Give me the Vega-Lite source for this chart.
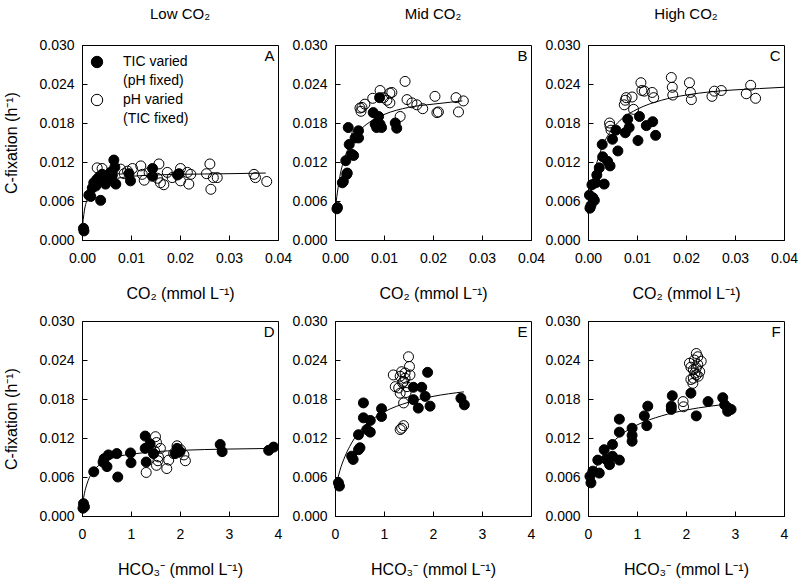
{
  "$schema": "https://vega.github.io/schema/vega-lite/v6.json",
  "background": "white",
  "padding": {"left": 3, "top": 6, "right": 5, "bottom": 5},
  "datasets": {
    "pts": [
      {"p":"A","t":"pH","x":0.0031,"y":0.0111},{"p":"A","t":"pH","x":0.0041,"y":0.0110},{"p":"A","t":"pH","x":0.0079,"y":0.0109},{"p":"A","t":"pH","x":0.0086,"y":0.0102},{"p":"A","t":"pH","x":0.0093,"y":0.0106},{"p":"A","t":"pH","x":0.0103,"y":0.0110},{"p":"A","t":"pH","x":0.0120,"y":0.0114},{"p":"A","t":"pH","x":0.0123,"y":0.0101},{"p":"A","t":"pH","x":0.0127,"y":0.0092},{"p":"A","t":"pH","x":0.0137,"y":0.0104},{"p":"A","t":"pH","x":0.0157,"y":0.0117},{"p":"A","t":"pH","x":0.0154,"y":0.0095},{"p":"A","t":"pH","x":0.0160,"y":0.0088},{"p":"A","t":"pH","x":0.0167,"y":0.0085},{"p":"A","t":"pH","x":0.0174,"y":0.0104},{"p":"A","t":"pH","x":0.0184,"y":0.0096},{"p":"A","t":"pH","x":0.0201,"y":0.0110},{"p":"A","t":"pH","x":0.0201,"y":0.0091},{"p":"A","t":"pH","x":0.0215,"y":0.0104},{"p":"A","t":"pH","x":0.0218,"y":0.0086},{"p":"A","t":"pH","x":0.0222,"y":0.0101},{"p":"A","t":"pH","x":0.0254,"y":0.0102},{"p":"A","t":"pH","x":0.0261,"y":0.0117},{"p":"A","t":"pH","x":0.0263,"y":0.0078},{"p":"A","t":"pH","x":0.0268,"y":0.0096},{"p":"A","t":"pH","x":0.0276,"y":0.0096},{"p":"A","t":"pH","x":0.0351,"y":0.0101},{"p":"A","t":"pH","x":0.0354,"y":0.0096},{"p":"A","t":"pH","x":0.0377,"y":0.0090},
      {"p":"A","t":"TIC","x":0.0003,"y":0.0018},{"p":"A","t":"TIC","x":0.0004,"y":0.0014},{"p":"A","t":"TIC","x":0.0014,"y":0.0069},{"p":"A","t":"TIC","x":0.0018,"y":0.0067},{"p":"A","t":"TIC","x":0.0021,"y":0.0080},{"p":"A","t":"TIC","x":0.0024,"y":0.0088},{"p":"A","t":"TIC","x":0.0028,"y":0.0083},{"p":"A","t":"TIC","x":0.0030,"y":0.0093},{"p":"A","t":"TIC","x":0.0035,"y":0.0097},{"p":"A","t":"TIC","x":0.0038,"y":0.0061},{"p":"A","t":"TIC","x":0.0041,"y":0.0101},{"p":"A","t":"TIC","x":0.0048,"y":0.0086},{"p":"A","t":"TIC","x":0.0055,"y":0.0095},{"p":"A","t":"TIC","x":0.0058,"y":0.0104},{"p":"A","t":"TIC","x":0.0062,"y":0.0100},{"p":"A","t":"TIC","x":0.0065,"y":0.0123},{"p":"A","t":"TIC","x":0.0067,"y":0.0112},{"p":"A","t":"TIC","x":0.0069,"y":0.0086},{"p":"A","t":"TIC","x":0.0096,"y":0.0102},{"p":"A","t":"TIC","x":0.0099,"y":0.0091},{"p":"A","t":"TIC","x":0.0144,"y":0.0110},{"p":"A","t":"TIC","x":0.0144,"y":0.0098},{"p":"A","t":"TIC","x":0.0195,"y":0.0100},{"p":"A","t":"TIC","x":0.0198,"y":0.0102},
      {"p":"B","t":"pH","x":0.0044,"y":0.0162},{"p":"B","t":"pH","x":0.0051,"y":0.0203},{"p":"B","t":"pH","x":0.0055,"y":0.0204},{"p":"B","t":"pH","x":0.0053,"y":0.0198},{"p":"B","t":"pH","x":0.0061,"y":0.0209},{"p":"B","t":"pH","x":0.0077,"y":0.0218},{"p":"B","t":"pH","x":0.0092,"y":0.0230},{"p":"B","t":"pH","x":0.0099,"y":0.0219},{"p":"B","t":"pH","x":0.0106,"y":0.0215},{"p":"B","t":"pH","x":0.0112,"y":0.0211},{"p":"B","t":"pH","x":0.0112,"y":0.0226},{"p":"B","t":"pH","x":0.0116,"y":0.0227},{"p":"B","t":"pH","x":0.0133,"y":0.0190},{"p":"B","t":"pH","x":0.0143,"y":0.0244},{"p":"B","t":"pH","x":0.0147,"y":0.0216},{"p":"B","t":"pH","x":0.0157,"y":0.0211},{"p":"B","t":"pH","x":0.0167,"y":0.0208},{"p":"B","t":"pH","x":0.0179,"y":0.0202},{"p":"B","t":"pH","x":0.0204,"y":0.0221},{"p":"B","t":"pH","x":0.0208,"y":0.0196},{"p":"B","t":"pH","x":0.0211,"y":0.0197},{"p":"B","t":"pH","x":0.0247,"y":0.0219},{"p":"B","t":"pH","x":0.0252,"y":0.0197},{"p":"B","t":"pH","x":0.0262,"y":0.0214},
      {"p":"B","t":"TIC","x":0.0005,"y":0.0050},{"p":"B","t":"TIC","x":0.0004,"y":0.0048},{"p":"B","t":"TIC","x":0.0015,"y":0.0088},{"p":"B","t":"TIC","x":0.0017,"y":0.0090},{"p":"B","t":"TIC","x":0.0024,"y":0.0101},{"p":"B","t":"TIC","x":0.0025,"y":0.0103},{"p":"B","t":"TIC","x":0.0022,"y":0.0122},{"p":"B","t":"TIC","x":0.0027,"y":0.0173},{"p":"B","t":"TIC","x":0.0029,"y":0.0147},{"p":"B","t":"TIC","x":0.0034,"y":0.0132},{"p":"B","t":"TIC","x":0.0038,"y":0.0130},{"p":"B","t":"TIC","x":0.0041,"y":0.0157},{"p":"B","t":"TIC","x":0.0048,"y":0.0168},{"p":"B","t":"TIC","x":0.0048,"y":0.0157},{"p":"B","t":"TIC","x":0.0078,"y":0.0196},{"p":"B","t":"TIC","x":0.0082,"y":0.0178},{"p":"B","t":"TIC","x":0.0085,"y":0.0173},{"p":"B","t":"TIC","x":0.0089,"y":0.0190},{"p":"B","t":"TIC","x":0.0091,"y":0.0219},{"p":"B","t":"TIC","x":0.0092,"y":0.0178},{"p":"B","t":"TIC","x":0.0095,"y":0.0173},{"p":"B","t":"TIC","x":0.0123,"y":0.0180},{"p":"B","t":"TIC","x":0.0126,"y":0.0172},
      {"p":"C","t":"pH","x":0.0044,"y":0.0180},{"p":"C","t":"pH","x":0.0045,"y":0.0175},{"p":"C","t":"pH","x":0.0047,"y":0.0169},{"p":"C","t":"pH","x":0.0074,"y":0.0208},{"p":"C","t":"pH","x":0.0076,"y":0.0215},{"p":"C","t":"pH","x":0.0078,"y":0.0219},{"p":"C","t":"pH","x":0.0090,"y":0.0220},{"p":"C","t":"pH","x":0.0093,"y":0.0201},{"p":"C","t":"pH","x":0.0108,"y":0.0242},{"p":"C","t":"pH","x":0.0110,"y":0.0230},{"p":"C","t":"pH","x":0.0115,"y":0.0229},{"p":"C","t":"pH","x":0.0131,"y":0.0227},{"p":"C","t":"pH","x":0.0134,"y":0.0219},{"p":"C","t":"pH","x":0.0170,"y":0.0250},{"p":"C","t":"pH","x":0.0172,"y":0.0235},{"p":"C","t":"pH","x":0.0173,"y":0.0223},{"p":"C","t":"pH","x":0.0207,"y":0.0242},{"p":"C","t":"pH","x":0.0209,"y":0.0227},{"p":"C","t":"pH","x":0.0211,"y":0.0216},{"p":"C","t":"pH","x":0.0253,"y":0.0221},{"p":"C","t":"pH","x":0.0258,"y":0.0229},{"p":"C","t":"pH","x":0.0272,"y":0.0230},{"p":"C","t":"pH","x":0.0323,"y":0.0225},{"p":"C","t":"pH","x":0.0332,"y":0.0238},{"p":"C","t":"pH","x":0.0342,"y":0.0218},
      {"p":"C","t":"TIC","x":0.0004,"y":0.0049},{"p":"C","t":"TIC","x":0.0006,"y":0.0053},{"p":"C","t":"TIC","x":0.0003,"y":0.0069},{"p":"C","t":"TIC","x":0.0010,"y":0.0065},{"p":"C","t":"TIC","x":0.0013,"y":0.0061},{"p":"C","t":"TIC","x":0.0008,"y":0.0085},{"p":"C","t":"TIC","x":0.0016,"y":0.0088},{"p":"C","t":"TIC","x":0.0018,"y":0.0100},{"p":"C","t":"TIC","x":0.0023,"y":0.0111},{"p":"C","t":"TIC","x":0.0029,"y":0.0147},{"p":"C","t":"TIC","x":0.0030,"y":0.0128},{"p":"C","t":"TIC","x":0.0033,"y":0.0086},{"p":"C","t":"TIC","x":0.0040,"y":0.0121},{"p":"C","t":"TIC","x":0.0045,"y":0.0114},{"p":"C","t":"TIC","x":0.0050,"y":0.0155},{"p":"C","t":"TIC","x":0.0057,"y":0.0169},{"p":"C","t":"TIC","x":0.0061,"y":0.0137},{"p":"C","t":"TIC","x":0.0076,"y":0.0165},{"p":"C","t":"TIC","x":0.0081,"y":0.0186},{"p":"C","t":"TIC","x":0.0084,"y":0.0173},{"p":"C","t":"TIC","x":0.0102,"y":0.0153},{"p":"C","t":"TIC","x":0.0105,"y":0.0190},{"p":"C","t":"TIC","x":0.0119,"y":0.0176},{"p":"C","t":"TIC","x":0.0132,"y":0.0182},{"p":"C","t":"TIC","x":0.0138,"y":0.0161},
      {"p":"D","t":"pH","x":1.31,"y":0.0067},{"p":"D","t":"pH","x":1.50,"y":0.0122},{"p":"D","t":"pH","x":1.52,"y":0.0113},{"p":"D","t":"pH","x":1.52,"y":0.0078},{"p":"D","t":"pH","x":1.56,"y":0.0091},{"p":"D","t":"pH","x":1.60,"y":0.0104},{"p":"D","t":"pH","x":1.73,"y":0.0073},{"p":"D","t":"pH","x":1.77,"y":0.0086},{"p":"D","t":"pH","x":1.87,"y":0.0096},{"p":"D","t":"pH","x":1.94,"y":0.0108},{"p":"D","t":"pH","x":2.01,"y":0.0102},{"p":"D","t":"pH","x":2.08,"y":0.0094},{"p":"D","t":"pH","x":2.11,"y":0.0085},{"p":"D","t":"pH","x":1.48,"y":0.0100},{"p":"D","t":"pH","x":1.55,"y":0.0085},
      {"p":"D","t":"TIC","x":0.03,"y":0.0019},{"p":"D","t":"TIC","x":0.05,"y":0.0014},{"p":"D","t":"TIC","x":0.02,"y":0.0012},{"p":"D","t":"TIC","x":0.24,"y":0.0068},{"p":"D","t":"TIC","x":0.43,"y":0.0083},{"p":"D","t":"TIC","x":0.45,"y":0.0088},{"p":"D","t":"TIC","x":0.51,"y":0.0076},{"p":"D","t":"TIC","x":0.54,"y":0.0094},{"p":"D","t":"TIC","x":0.71,"y":0.0096},{"p":"D","t":"TIC","x":0.73,"y":0.0060},{"p":"D","t":"TIC","x":0.99,"y":0.0097},{"p":"D","t":"TIC","x":1.00,"y":0.0082},{"p":"D","t":"TIC","x":1.29,"y":0.0123},{"p":"D","t":"TIC","x":1.29,"y":0.0104},{"p":"D","t":"TIC","x":1.31,"y":0.0083},{"p":"D","t":"TIC","x":1.39,"y":0.0111},{"p":"D","t":"TIC","x":1.46,"y":0.0096},{"p":"D","t":"TIC","x":1.90,"y":0.0096},{"p":"D","t":"TIC","x":1.94,"y":0.0104},{"p":"D","t":"TIC","x":2.00,"y":0.0099},{"p":"D","t":"TIC","x":2.82,"y":0.0110},{"p":"D","t":"TIC","x":2.86,"y":0.0099},{"p":"D","t":"TIC","x":3.81,"y":0.0101},{"p":"D","t":"TIC","x":3.91,"y":0.0106},
      {"p":"E","t":"pH","x":1.19,"y":0.0217},{"p":"E","t":"pH","x":1.23,"y":0.0199},{"p":"E","t":"pH","x":1.30,"y":0.0197},{"p":"E","t":"pH","x":1.33,"y":0.0215},{"p":"E","t":"pH","x":1.36,"y":0.0222},{"p":"E","t":"pH","x":1.40,"y":0.0207},{"p":"E","t":"pH","x":1.43,"y":0.0212},{"p":"E","t":"pH","x":1.47,"y":0.0199},{"p":"E","t":"pH","x":1.50,"y":0.0245},{"p":"E","t":"pH","x":1.52,"y":0.0230},{"p":"E","t":"pH","x":1.43,"y":0.0220},{"p":"E","t":"pH","x":1.53,"y":0.0217},{"p":"E","t":"pH","x":1.40,"y":0.0174},{"p":"E","t":"pH","x":1.33,"y":0.0189},{"p":"E","t":"pH","x":1.36,"y":0.0135},{"p":"E","t":"pH","x":1.40,"y":0.0139},{"p":"E","t":"pH","x":1.33,"y":0.0133},{"p":"E","t":"pH","x":1.38,"y":0.0205},{"p":"E","t":"pH","x":1.45,"y":0.0190},
      {"p":"E","t":"TIC","x":0.07,"y":0.0051},{"p":"E","t":"TIC","x":0.09,"y":0.0046},{"p":"E","t":"TIC","x":0.34,"y":0.0092},{"p":"E","t":"TIC","x":0.37,"y":0.0087},{"p":"E","t":"TIC","x":0.48,"y":0.0102},{"p":"E","t":"TIC","x":0.51,"y":0.0105},{"p":"E","t":"TIC","x":0.48,"y":0.0125},{"p":"E","t":"TIC","x":0.58,"y":0.0174},{"p":"E","t":"TIC","x":0.58,"y":0.0151},{"p":"E","t":"TIC","x":0.65,"y":0.0133},{"p":"E","t":"TIC","x":0.72,"y":0.0147},{"p":"E","t":"TIC","x":0.72,"y":0.0129},{"p":"E","t":"TIC","x":0.95,"y":0.0165},{"p":"E","t":"TIC","x":0.95,"y":0.0153},{"p":"E","t":"TIC","x":1.60,"y":0.0198},{"p":"E","t":"TIC","x":1.60,"y":0.0179},{"p":"E","t":"TIC","x":1.70,"y":0.0166},{"p":"E","t":"TIC","x":1.77,"y":0.0198},{"p":"E","t":"TIC","x":1.84,"y":0.0184},{"p":"E","t":"TIC","x":1.89,"y":0.0221},{"p":"E","t":"TIC","x":1.94,"y":0.0169},{"p":"E","t":"TIC","x":2.57,"y":0.0181},{"p":"E","t":"TIC","x":2.64,"y":0.0171},
      {"p":"F","t":"pH","x":1.94,"y":0.0176},{"p":"F","t":"pH","x":1.95,"y":0.0168},{"p":"F","t":"pH","x":2.10,"y":0.0210},{"p":"F","t":"pH","x":2.14,"y":0.0204},{"p":"F","t":"pH","x":2.21,"y":0.0250},{"p":"F","t":"pH","x":2.17,"y":0.0240},{"p":"F","t":"pH","x":2.24,"y":0.0233},{"p":"F","t":"pH","x":2.15,"y":0.0225},{"p":"F","t":"pH","x":2.28,"y":0.0222},{"p":"F","t":"pH","x":2.21,"y":0.0217},{"p":"F","t":"pH","x":2.10,"y":0.0229},{"p":"F","t":"pH","x":2.31,"y":0.0238},{"p":"F","t":"pH","x":2.15,"y":0.0212},{"p":"F","t":"pH","x":2.24,"y":0.0245},{"p":"F","t":"pH","x":2.07,"y":0.0235},{"p":"F","t":"pH","x":2.21,"y":0.0228},{"p":"F","t":"pH","x":2.18,"y":0.0220},{"p":"F","t":"pH","x":2.25,"y":0.0215},
      {"p":"F","t":"TIC","x":0.06,"y":0.0051},{"p":"F","t":"TIC","x":0.04,"y":0.0061},{"p":"F","t":"TIC","x":0.10,"y":0.0069},{"p":"F","t":"TIC","x":0.23,"y":0.0066},{"p":"F","t":"TIC","x":0.20,"y":0.0086},{"p":"F","t":"TIC","x":0.33,"y":0.0102},{"p":"F","t":"TIC","x":0.37,"y":0.0087},{"p":"F","t":"TIC","x":0.44,"y":0.0079},{"p":"F","t":"TIC","x":0.50,"y":0.0110},{"p":"F","t":"TIC","x":0.50,"y":0.0092},{"p":"F","t":"TIC","x":0.64,"y":0.0086},{"p":"F","t":"TIC","x":0.64,"y":0.0149},{"p":"F","t":"TIC","x":0.64,"y":0.0129},{"p":"F","t":"TIC","x":0.90,"y":0.0135},{"p":"F","t":"TIC","x":0.90,"y":0.0124},{"p":"F","t":"TIC","x":0.90,"y":0.0115},{"p":"F","t":"TIC","x":1.15,"y":0.0154},{"p":"F","t":"TIC","x":1.22,"y":0.0169},{"p":"F","t":"TIC","x":1.20,"y":0.0139},{"p":"F","t":"TIC","x":1.70,"y":0.0169},{"p":"F","t":"TIC","x":1.72,"y":0.0185},{"p":"F","t":"TIC","x":1.70,"y":0.0164},{"p":"F","t":"TIC","x":2.10,"y":0.0189},{"p":"F","t":"TIC","x":2.21,"y":0.0154},{"p":"F","t":"TIC","x":2.45,"y":0.0176},{"p":"F","t":"TIC","x":2.75,"y":0.0182},{"p":"F","t":"TIC","x":2.79,"y":0.0171},{"p":"F","t":"TIC","x":2.92,"y":0.0164},{"p":"F","t":"TIC","x":2.85,"y":0.0161}
    ],
    "fits": [
      {"p":"A","x":0,"y":0.0014},{"p":"A","x":0.0005,"y":0.0046},{"p":"A","x":0.001,"y":0.0061},{"p":"A","x":0.002,"y":0.0076},{"p":"A","x":0.003,"y":0.0084},{"p":"A","x":0.005,"y":0.0091},{"p":"A","x":0.008,"y":0.0096},{"p":"A","x":0.012,"y":0.0099},{"p":"A","x":0.02,"y":0.0101},{"p":"A","x":0.03,"y":0.0102},{"p":"A","x":0.0375,"y":0.0103},
      {"p":"B","x":0,"y":0.0045},{"p":"B","x":0.001,"y":0.0098},{"p":"B","x":0.002,"y":0.0127},{"p":"B","x":0.003,"y":0.0146},{"p":"B","x":0.005,"y":0.0168},{"p":"B","x":0.007,"y":0.0181},{"p":"B","x":0.01,"y":0.0193},{"p":"B","x":0.015,"y":0.0204},{"p":"B","x":0.02,"y":0.0209},{"p":"B","x":0.026,"y":0.0214},
      {"p":"C","x":0,"y":0.0040},{"p":"C","x":0.001,"y":0.0093},{"p":"C","x":0.002,"y":0.0124},{"p":"C","x":0.003,"y":0.0145},{"p":"C","x":0.005,"y":0.0171},{"p":"C","x":0.007,"y":0.0187},{"p":"C","x":0.01,"y":0.0201},{"p":"C","x":0.015,"y":0.0215},{"p":"C","x":0.02,"y":0.0223},{"p":"C","x":0.025,"y":0.0228},{"p":"C","x":0.03,"y":0.0231},{"p":"C","x":0.035,"y":0.0233},{"p":"C","x":0.04,"y":0.0235},
      {"p":"D","x":0.02,"y":0.0022},{"p":"D","x":0.05,"y":0.0035},{"p":"D","x":0.1,"y":0.0049},{"p":"D","x":0.2,"y":0.0066},{"p":"D","x":0.3,"y":0.0075},{"p":"D","x":0.5,"y":0.0085},{"p":"D","x":0.75,"y":0.0092},{"p":"D","x":1,"y":0.0095},{"p":"D","x":1.5,"y":0.0099},{"p":"D","x":2,"y":0.0101},{"p":"D","x":3,"y":0.0103},{"p":"D","x":3.9,"y":0.0104},
      {"p":"E","x":0.05,"y":0.0056},{"p":"E","x":0.1,"y":0.0070},{"p":"E","x":0.2,"y":0.0091},{"p":"E","x":0.3,"y":0.0107},{"p":"E","x":0.5,"y":0.0130},{"p":"E","x":0.75,"y":0.0148},{"p":"E","x":1,"y":0.0160},{"p":"E","x":1.5,"y":0.0175},{"p":"E","x":2,"y":0.0184},{"p":"E","x":2.63,"y":0.0191},
      {"p":"F","x":0.05,"y":0.0052},{"p":"F","x":0.1,"y":0.0063},{"p":"F","x":0.3,"y":0.0093},{"p":"F","x":0.5,"y":0.0113},{"p":"F","x":0.75,"y":0.0129},{"p":"F","x":1,"y":0.0140},{"p":"F","x":1.5,"y":0.0154},{"p":"F","x":2,"y":0.0163},{"p":"F","x":2.5,"y":0.0169},{"p":"F","x":2.92,"y":0.0173}
    ]
  },
  "columns": 3,
  "spacing": {"row": 81, "column": 57},
  "bounds": "flush",
  "resolve": {"scale": {"x": "independent", "y": "independent"}, "legend": {"fill": "independent"}},
  "concat": [
    {
      "width": 196, "height": 195,
      "title": {"text": "Low CO₂"},
      "layer": [
        {"data": {"name": "fits"}, "transform": [{"filter": "datum.p === 'A'"}],
         "mark": {"type": "line", "color": "black", "strokeWidth": 1, "interpolate": "monotone"},
         "encoding": {
           "x": {"field": "x", "type": "quantitative", "scale": {"domain": [0, 0.04], "nice": false}, "axis": {"values": [0, 0.01, 0.02, 0.03, 0.04], "tickCount": 10, "format": ".2f", "title": "CO₂ (mmol L⁻¹)"}},
           "y": {"field": "y", "type": "quantitative", "scale": {"domain": [0, 0.03], "nice": false}, "axis": {"values": [0, 0.006, 0.012, 0.018, 0.024, 0.03], "tickCount": 10, "format": ".3f", "labelOverlap": false, "title": "C-fixation (h⁻¹)"}}}},
        {"data": {"name": "pts"}, "transform": [{"filter": "datum.p === 'A'"}],
         "mark": {"type": "point", "shape": "circle", "filled": true, "size": 100, "stroke": "black", "strokeWidth": 1, "opacity": 1},
         "encoding": {
           "x": {"field": "x", "type": "quantitative"},
           "y": {"field": "y", "type": "quantitative"},
           "fill": {"field": "t", "type": "nominal", "scale": {"domain": ["TIC", "pH"], "range": ["black", "transparent"]},
             "legend": {"orient": "none", "legendX": 8, "legendY": 10, "direction": "vertical", "title": null, "padding": 0, "symbolType": "circle", "symbolSize": 130, "symbolStrokeColor": "black", "symbolStrokeWidth": 1, "labelFontSize": 14, "labelOffset": 19, "labelBaseline": "middle", "rowPadding": 4,
               "labelExpr": "datum.label === 'TIC' ? ['TIC varied', '(pH fixed)'] : ['pH varied', '(TIC fixed)']"}}}},
        {"data": {"values": [{}]}, "mark": {"type": "text", "text": "A", "align": "right", "baseline": "middle", "fontSize": 15},
         "encoding": {"x": {"datum": 0.0393}, "y": {"datum": 0.0283}}}
      ]
    },
    {
      "width": 196, "height": 195,
      "title": {"text": "Mid CO₂"},
      "layer": [
        {"data": {"name": "fits"}, "transform": [{"filter": "datum.p === 'B'"}],
         "mark": {"type": "line", "color": "black", "strokeWidth": 1, "interpolate": "monotone"},
         "encoding": {
           "x": {"field": "x", "type": "quantitative", "scale": {"domain": [0, 0.04], "nice": false}, "axis": {"values": [0, 0.01, 0.02, 0.03, 0.04], "tickCount": 10, "format": ".2f", "title": "CO₂ (mmol L⁻¹)"}},
           "y": {"field": "y", "type": "quantitative", "scale": {"domain": [0, 0.03], "nice": false}, "axis": {"values": [0, 0.006, 0.012, 0.018, 0.024, 0.03], "tickCount": 10, "format": ".3f", "labelOverlap": false, "title": null}}}},
        {"data": {"name": "pts"}, "transform": [{"filter": "datum.p === 'B'"}],
         "mark": {"type": "point", "shape": "circle", "filled": true, "size": 100, "stroke": "black", "strokeWidth": 1, "opacity": 1},
         "encoding": {
           "x": {"field": "x", "type": "quantitative"},
           "y": {"field": "y", "type": "quantitative"},
           "fill": {"field": "t", "type": "nominal", "scale": {"domain": ["TIC", "pH"], "range": ["black", "transparent"]}, "legend": null}}},
        {"data": {"values": [{}]}, "mark": {"type": "text", "text": "B", "align": "right", "baseline": "middle", "fontSize": 15},
         "encoding": {"x": {"datum": 0.0393}, "y": {"datum": 0.0283}}}
      ]
    },
    {
      "width": 196, "height": 195,
      "title": {"text": "High CO₂"},
      "layer": [
        {"data": {"name": "fits"}, "transform": [{"filter": "datum.p === 'C'"}],
         "mark": {"type": "line", "color": "black", "strokeWidth": 1, "interpolate": "monotone"},
         "encoding": {
           "x": {"field": "x", "type": "quantitative", "scale": {"domain": [0, 0.04], "nice": false}, "axis": {"values": [0, 0.01, 0.02, 0.03, 0.04], "tickCount": 10, "format": ".2f", "title": "CO₂ (mmol L⁻¹)"}},
           "y": {"field": "y", "type": "quantitative", "scale": {"domain": [0, 0.03], "nice": false}, "axis": {"values": [0, 0.006, 0.012, 0.018, 0.024, 0.03], "tickCount": 10, "format": ".3f", "labelOverlap": false, "title": null}}}},
        {"data": {"name": "pts"}, "transform": [{"filter": "datum.p === 'C'"}],
         "mark": {"type": "point", "shape": "circle", "filled": true, "size": 100, "stroke": "black", "strokeWidth": 1, "opacity": 1},
         "encoding": {
           "x": {"field": "x", "type": "quantitative"},
           "y": {"field": "y", "type": "quantitative"},
           "fill": {"field": "t", "type": "nominal", "scale": {"domain": ["TIC", "pH"], "range": ["black", "transparent"]}, "legend": null}}},
        {"data": {"values": [{}]}, "mark": {"type": "text", "text": "C", "align": "right", "baseline": "middle", "fontSize": 15},
         "encoding": {"x": {"datum": 0.0393}, "y": {"datum": 0.0283}}}
      ]
    },
    {
      "width": 196, "height": 195,
      "layer": [
        {"data": {"name": "fits"}, "transform": [{"filter": "datum.p === 'D'"}],
         "mark": {"type": "line", "color": "black", "strokeWidth": 1, "interpolate": "monotone"},
         "encoding": {
           "x": {"field": "x", "type": "quantitative", "scale": {"domain": [0, 4], "nice": false}, "axis": {"values": [0, 1, 2, 3, 4], "tickCount": 10, "format": "d", "title": "HCO₃⁻ (mmol L⁻¹)"}},
           "y": {"field": "y", "type": "quantitative", "scale": {"domain": [0, 0.03], "nice": false}, "axis": {"values": [0, 0.006, 0.012, 0.018, 0.024, 0.03], "tickCount": 10, "format": ".3f", "labelOverlap": false, "title": "C-fixation (h⁻¹)"}}}},
        {"data": {"name": "pts"}, "transform": [{"filter": "datum.p === 'D'"}],
         "mark": {"type": "point", "shape": "circle", "filled": true, "size": 100, "stroke": "black", "strokeWidth": 1, "opacity": 1},
         "encoding": {
           "x": {"field": "x", "type": "quantitative"},
           "y": {"field": "y", "type": "quantitative"},
           "fill": {"field": "t", "type": "nominal", "scale": {"domain": ["TIC", "pH"], "range": ["black", "transparent"]}, "legend": null}}},
        {"data": {"values": [{}]}, "mark": {"type": "text", "text": "D", "align": "right", "baseline": "middle", "fontSize": 15},
         "encoding": {"x": {"datum": 3.93}, "y": {"datum": 0.0283}}}
      ]
    },
    {
      "width": 196, "height": 195,
      "layer": [
        {"data": {"name": "fits"}, "transform": [{"filter": "datum.p === 'E'"}],
         "mark": {"type": "line", "color": "black", "strokeWidth": 1, "interpolate": "monotone"},
         "encoding": {
           "x": {"field": "x", "type": "quantitative", "scale": {"domain": [0, 4], "nice": false}, "axis": {"values": [0, 1, 2, 3, 4], "tickCount": 10, "format": "d", "title": "HCO₃⁻ (mmol L⁻¹)"}},
           "y": {"field": "y", "type": "quantitative", "scale": {"domain": [0, 0.03], "nice": false}, "axis": {"values": [0, 0.006, 0.012, 0.018, 0.024, 0.03], "tickCount": 10, "format": ".3f", "labelOverlap": false, "title": null}}}},
        {"data": {"name": "pts"}, "transform": [{"filter": "datum.p === 'E'"}],
         "mark": {"type": "point", "shape": "circle", "filled": true, "size": 100, "stroke": "black", "strokeWidth": 1, "opacity": 1},
         "encoding": {
           "x": {"field": "x", "type": "quantitative"},
           "y": {"field": "y", "type": "quantitative"},
           "fill": {"field": "t", "type": "nominal", "scale": {"domain": ["TIC", "pH"], "range": ["black", "transparent"]}, "legend": null}}},
        {"data": {"values": [{}]}, "mark": {"type": "text", "text": "E", "align": "right", "baseline": "middle", "fontSize": 15},
         "encoding": {"x": {"datum": 3.93}, "y": {"datum": 0.0283}}}
      ]
    },
    {
      "width": 196, "height": 195,
      "layer": [
        {"data": {"name": "fits"}, "transform": [{"filter": "datum.p === 'F'"}],
         "mark": {"type": "line", "color": "black", "strokeWidth": 1, "interpolate": "monotone"},
         "encoding": {
           "x": {"field": "x", "type": "quantitative", "scale": {"domain": [0, 4], "nice": false}, "axis": {"values": [0, 1, 2, 3, 4], "tickCount": 10, "format": "d", "title": "HCO₃⁻ (mmol L⁻¹)"}},
           "y": {"field": "y", "type": "quantitative", "scale": {"domain": [0, 0.03], "nice": false}, "axis": {"values": [0, 0.006, 0.012, 0.018, 0.024, 0.03], "tickCount": 10, "format": ".3f", "labelOverlap": false, "title": null}}}},
        {"data": {"name": "pts"}, "transform": [{"filter": "datum.p === 'F'"}],
         "mark": {"type": "point", "shape": "circle", "filled": true, "size": 100, "stroke": "black", "strokeWidth": 1, "opacity": 1},
         "encoding": {
           "x": {"field": "x", "type": "quantitative"},
           "y": {"field": "y", "type": "quantitative"},
           "fill": {"field": "t", "type": "nominal", "scale": {"domain": ["TIC", "pH"], "range": ["black", "transparent"]}, "legend": null}}},
        {"data": {"values": [{}]}, "mark": {"type": "text", "text": "F", "align": "right", "baseline": "middle", "fontSize": 15},
         "encoding": {"x": {"datum": 3.93}, "y": {"datum": 0.0283}}}
      ]
    }
  ],
  "config": {
    "font": "Liberation Sans",
    "view": {"stroke": "black", "strokeWidth": 1},
    "axis": {"grid": false, "domainColor": "black", "tickColor": "black", "tickSize": -5, "labelFontSize": 14, "labelColor": "black", "labelFlush": false, "labelOverlap": false, "labelPadding": 13, "titleFontSize": 16, "titleFontWeight": "normal", "titleColor": "black"},
    "axisX": {"labelPadding": 16, "titlePadding": 20},
    "axisY": {"titlePadding": 19},
    "title": {"fontSize": 15, "fontWeight": "normal", "color": "black", "offset": 16},
    "legend": {"labelColor": "black", "labelFont": "Liberation Sans"},
    "text": {"color": "black", "font": "Liberation Sans"},
    "style": {"guide-label": {"lineHeight": 19}}
  }
}
